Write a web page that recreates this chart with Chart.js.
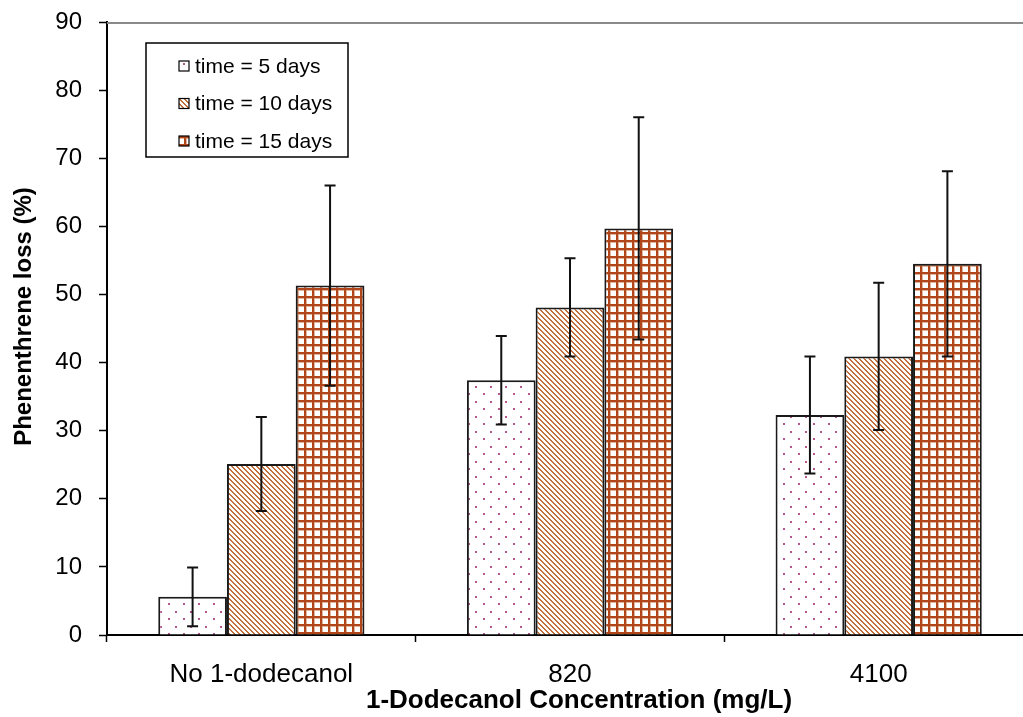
<!DOCTYPE html>
<html>
<head>
<meta charset="utf-8">
<script src="https://cdn.jsdelivr.net/npm/chart.js@4"></script>
<style>
  html, body { margin: 0; padding: 0; background: #fff; overflow: hidden; }
  #wrap { width: 1023px; height: 717px; overflow: hidden; }
</style>
</head>
<body>
<div id="wrap"><canvas id="lossChart" width="1033" height="717"></canvas></div>
<script>
// Data
const categories = ['No 1-dodecanol', '820', '4100'];
const seriesLabels = ['time = 5 days', 'time = 10 days', 'time = 15 days'];
const day5 = [5.6, 37.4, 32.3];
const day5Err = [4.3, 6.5, 8.6];
const day10 = [25.1, 48.1, 40.9];
const day10Err = [6.9, 7.2, 10.8];
const day15 = [51.3, 59.7, 54.5];
const day15Err = [14.7, 16.3, 13.6];
const yTicks = [0, 10, 20, 30, 40, 50, 60, 70, 80, 90];
const xTitle = '1-Dodecanol Concentration (mg/L)';
const yTitle = 'Phenenthrene loss (%)';

const FONT = "'Liberation Sans', Arial, sans-serif";
const ctx = document.getElementById('lossChart').getContext('2d');

// Fill patterns (tiles drawn on small offscreen canvases)
function makeTile(w, h, paint) {
    const c = document.createElement('canvas');
    c.width = w;
    c.height = h;
    const g = c.getContext('2d');
    g.fillStyle = '#fff';
    g.fillRect(0, 0, w, h);
    paint(g);
    return ctx.createPattern(c, 'repeat');
}

const dotFill = makeTile(15, 15, g => {
    g.fillStyle = '#b5568f';
    g.fillRect(3, 3, 2, 2);
    g.fillRect(10, 11, 2, 2);
});

const stripeFill = makeTile(5, 5, g => {
    g.fillStyle = '#c4703c';
    for (let y = 0; y < 5; y++) {
        for (let x = 0; x < 5; x++) {
            if ((((x - y) % 5) + 5) % 5 < 2) g.fillRect(x, y, 1, 1);
        }
    }
});

const gridFill = makeTile(8, 8, g => {
    g.fillStyle = '#e2b49c';
    g.fillRect(0, 0, 8, 3);
    g.fillRect(0, 0, 3, 8);
    g.fillStyle = '#b0461a';
    g.fillRect(0, 0, 8, 2);
    g.fillRect(0, 0, 2, 8);
});

// Error bars from each dataset's errors array
const errorBars = {
    id: 'errorBars',
    afterDatasetsDraw(chart) {
        const c = chart.ctx;
        const y = chart.scales.y;
        c.save();
        c.strokeStyle = '#111';
        c.lineWidth = 2;
        chart.data.datasets.forEach((ds, i) => {
            chart.getDatasetMeta(i).data.forEach((bar, j) => {
                const top = y.getPixelForValue(ds.data[j] + ds.errors[j]);
                const bot = y.getPixelForValue(ds.data[j] - ds.errors[j]);
                c.beginPath();
                c.moveTo(bar.x, top);
                c.lineTo(bar.x, bot);
                c.moveTo(bar.x - 5.5, top);
                c.lineTo(bar.x + 5.5, top);
                c.moveTo(bar.x - 5.5, bot);
                c.lineTo(bar.x + 5.5, bot);
                c.stroke();
            });
        });
        c.restore();
    }
};

// Grey frame line on top of plot area
const topLine = {
    id: 'topLine',
    beforeDatasetsDraw(chart) {
        const { ctx: c, chartArea: a } = chart;
        c.save();
        c.strokeStyle = '#8a8a8a';
        c.lineWidth = 2;
        c.beginPath();
        c.moveTo(a.left, a.top + 1);
        c.lineTo(a.right, a.top + 1);
        c.stroke();
        c.restore();
    }
};

// Axis titles placed like the original (slightly off-centre)
const axisTitles = {
    id: 'axisTitles',
    afterDraw(chart) {
        const c = chart.ctx;
        const a = chart.chartArea;
        c.save();
        c.fillStyle = '#000';
        c.textAlign = 'center';
        c.textBaseline = 'middle';
        c.font = 'bold 26px ' + FONT;
        c.fillText(xTitle, 579, 701);
        c.translate(24, (a.top + a.bottom) / 2 - 12);
        c.rotate(-Math.PI / 2);
        c.font = 'bold 24px ' + FONT;
        c.fillText(yTitle, 0, 0);
        c.restore();
    }
};

// Boxed legend inside the plot
const boxLegend = {
    id: 'boxLegend',
    afterDraw(chart) {
        const c = chart.ctx;
        const a = chart.chartArea;
        const bx = a.left + 39, by = a.top + 21, bw = 202, bh = 114;
        c.save();
        c.fillStyle = '#fff';
        c.fillRect(bx, by, bw, bh);
        c.strokeStyle = '#000';
        c.lineWidth = 1.5;
        c.strokeRect(bx, by, bw, bh);
        c.font = '21px ' + FONT;
        c.textBaseline = 'middle';
        chart.data.datasets.forEach((ds, i) => {
            const cy = by + 23 + i * 37.5;
            c.fillStyle = ds.backgroundColor;
            c.fillRect(bx + 33, cy - 5, 10, 10);
            c.lineWidth = 1.2;
            c.strokeRect(bx + 33, cy - 5, 10, 10);
            c.fillStyle = '#000';
            c.fillText(ds.label, bx + 49, cy + 1);
        });
        c.restore();
    }
};

const barStyle = {
    borderColor: '#1a1a1a',
    borderWidth: 2,
    barPercentage: 1.0,
    categoryPercentage: 0.668
};

new Chart(ctx, {
    type: 'bar',
    data: {
        labels: categories,
        datasets: [
            { label: seriesLabels[0], data: day5, errors: day5Err, backgroundColor: dotFill, ...barStyle },
            { label: seriesLabels[1], data: day10, errors: day10Err, backgroundColor: stripeFill, ...barStyle },
            { label: seriesLabels[2], data: day15, errors: day15Err, backgroundColor: gridFill, ...barStyle }
        ]
    },
    options: {
        responsive: false,
        animation: false,
        layout: { padding: { top: 22, right: 0, left: 0, bottom: 0 } },
        plugins: {
            legend: { display: false },
            tooltip: { enabled: false }
        },
        scales: {
            x: {
                grid: { offset: true, drawOnChartArea: false, tickLength: 7, tickColor: '#000', tickWidth: 1.5 },
                border: { color: '#000', width: 2 },
                ticks: { color: '#000', font: { family: FONT, size: 26 }, padding: 17 },
                afterFit(s) { s.height = 82; }
            },
            y: {
                min: 0,
                max: 90,
                afterBuildTicks(s) { s.ticks = yTicks.map(v => ({ value: v })); },
                grid: { drawOnChartArea: false, tickLength: 8, tickColor: '#000', tickWidth: 1.5 },
                border: { color: '#000', width: 2 },
                ticks: { color: '#000', font: { family: FONT, size: 24 }, padding: 17 },
                afterFit(s) {
                    s.width = 107;
                    s.paddingTop = 0;
                    s.paddingBottom = 0;
                }
            }
        }
    },
    plugins: [topLine, errorBars, axisTitles, boxLegend]
});
</script>
</body>
</html>
